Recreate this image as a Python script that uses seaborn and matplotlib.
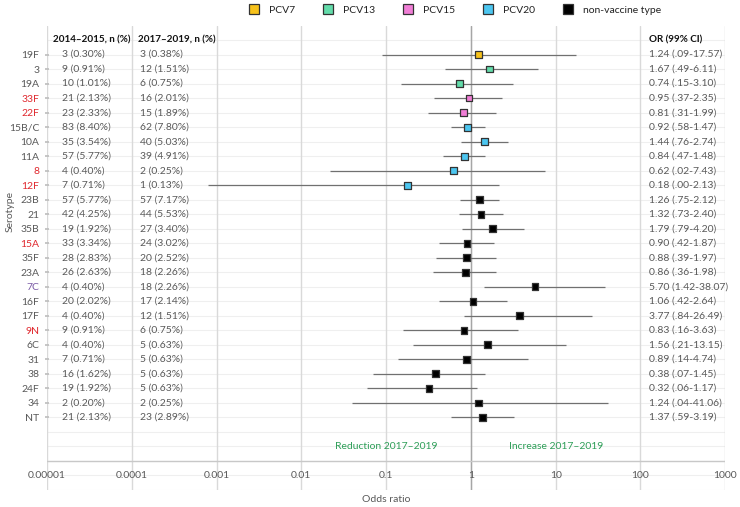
#!/usr/bin/env python3

import pandas as pd
import matplotlib.pyplot as plt
import seaborn as sns
from matplotlib.lines import Line2D
from matplotlib.transforms import blended_transform_factory

# data
serotypes = ["19F", "3", "19A", "33F", "22F", "15B/C", "10A", "11A", "8", "12F",
             "23B", "21", "35B", "15A", "35F", "23A", "7C", "16F", "17F", "9N",
             "6C", "31", "38", "24F", "34", "NT"]
vaccine = ["PCV7", "PCV13", "PCV13", "PCV15", "PCV15", "PCV20", "PCV20", "PCV20",
           "PCV20", "PCV20"] + ["non-vaccine type"] * 16
odds_ratio = [1.24, 1.67, 0.74, 0.95, 0.81, 0.92, 1.44, 0.84, 0.62, 0.18,
              1.26, 1.32, 1.79, 0.90, 0.88, 0.86, 5.70, 1.06, 3.77, 0.83,
              1.56, 0.89, 0.38, 0.32, 1.24, 1.37]
ci_low = [0.09, 0.49, 0.15, 0.37, 0.31, 0.58, 0.76, 0.47, 0.022, 0.0008,
          0.75, 0.73, 0.79, 0.42, 0.39, 0.36, 1.42, 0.42, 0.84, 0.16,
          0.21, 0.14, 0.07, 0.06, 0.04, 0.59]
ci_high = [17.57, 6.11, 3.10, 2.35, 1.99, 1.47, 2.74, 1.48, 7.43, 2.13,
           2.12, 2.40, 4.20, 1.87, 1.97, 1.98, 38.07, 2.64, 26.49, 3.63,
           13.15, 4.74, 1.45, 1.17, 41.06, 3.19]
or_labels = ["1.24 (.09-17.57)", "1.67 (.49-6.11)", "0.74 (.15-3.10)", "0.95 (.37-2.35)",
             "0.81 (.31-1.99)", "0.92 (.58-1.47)", "1.44 (.76-2.74)", "0.84 (.47-1.48)",
             "0.62 (.02-7.43)", "0.18 (.00-2.13)", "1.26 (.75-2.12)", "1.32 (.73-2.40)",
             "1.79 (.79-4.20)", "0.90 (.42-1.87)", "0.88 (.39-1.97)", "0.86 (.36-1.98)",
             "5.70 (1.42-38.07)", "1.06 (.42-2.64)", "3.77 (.84-26.49)", "0.83 (.16-3.63)",
             "1.56 (.21-13.15)", "0.89 (.14-4.74)", "0.38 (.07-1.45)", "0.32 (.06-1.17)",
             "1.24 (.04-41.06)", "1.37 (.59-3.19)"]
n_2014 = ["3 (0.30%)", "9 (0.91%)", "10 (1.01%)", "21 (2.13%)", "23 (2.33%)", "83 (8.40%)",
          "35 (3.54%)", "57 (5.77%)", "4 (0.40%)", "7 (0.71%)", "57 (5.77%)", "42 (4.25%)",
          "19 (1.92%)", "33 (3.34%)", "28 (2.83%)", "26 (2.63%)", "4 (0.40%)", "20 (2.02%)",
          "4 (0.40%)", "9 (0.91%)", "4 (0.40%)", "7 (0.71%)", "16 (1.62%)", "19 (1.92%)",
          "2 (0.20%)", "21 (2.13%)"]
n_2017 = ["3 (0.38%)", "12 (1.51%)", "6 (0.75%)", "16 (2.01%)", "15 (1.89%)", "62 (7.80%)",
          "40 (5.03%)", "39 (4.91%)", "2 (0.25%)", "1 (0.13%)", "57 (7.17%)", "44 (5.53%)",
          "27 (3.40%)", "24 (3.02%)", "20 (2.52%)", "18 (2.26%)", "18 (2.26%)", "17 (2.14%)",
          "12 (1.51%)", "6 (0.75%)", "5 (0.63%)", "5 (0.63%)", "5 (0.63%)", "5 (0.63%)",
          "2 (0.25%)", "23 (2.89%)"]
red_serotypes = ["33F", "22F", "8", "12F", "15A", "9N"]
purple_serotypes = ["7C"]
xticks = [1e-5, 1e-4, 1e-3, 1e-2, 1e-1, 1, 10, 100, 1000]
xtick_labels = ["0.00001", "0.0001", "0.001", "0.01", "0.1", "1", "10", "100", "1000"]

vaccine_order = ["PCV7", "PCV13", "PCV15", "PCV20", "non-vaccine type"]
palette = {"PCV7": "#f7c21b", "PCV13": "#63dcaa", "PCV15": "#f07ed6",
           "PCV20": "#4cc6f0", "non-vaccine type": "#000000"}

df = pd.DataFrame({"serotype": serotypes, "vaccine": vaccine, "OR": odds_ratio,
                   "low": ci_low, "high": ci_high})
df["row"] = range(1, len(df) + 1)

sns.set_theme(style="white")
plt.rcParams["font.family"] = ["Lato", "DejaVu Sans"]
text_grey = "#595959"

fig = plt.figure(figsize=(7.4, 5.07), dpi=100)
ax = fig.add_axes([0.0635, 0.0335, 0.9165, 0.9162])
ax.set_xscale("log")
ax.set_xlim(1e-5, 1e3)
ax.set_ylim(31, -1)

# grid
for r in range(0, 32):
    ax.axhline(r, color="#efefef", lw=0.8, zorder=0)
for xv in xticks:
    ax.axvline(xv, color="#d9d9d9", lw=1, zorder=0.5)
ax.axvline(1, color="#a6a6a6", lw=1, zorder=0.6)
ax.axhline(29, color="#c8c8c8", lw=1, zorder=0.7)

# error bars and points
ax.hlines(df["row"], df["low"], df["high"], color="#707070", lw=0.9, zorder=2)
sns.scatterplot(data=df, x="OR", y="row", hue="vaccine", hue_order=vaccine_order,
                palette=palette, marker="s", s=24, edgecolor="#333333",
                linewidth=0.9, legend=False, zorder=3, ax=ax)

for s in ax.spines.values():
    s.set_visible(False)
ax.set_xticks(xticks)
ax.tick_params(axis="x", bottom=False, labelbottom=False)
ax.set_yticks(df["row"])
ax.set_yticklabels(serotypes, fontsize=7.5)
ax.tick_params(axis="y", left=True, length=3, direction="inout", color="#bfbfbf",
               pad=4)
for lbl in ax.get_yticklabels():
    t = lbl.get_text()
    if t in red_serotypes:
        lbl.set_color("#e0282e")
    elif t in purple_serotypes:
        lbl.set_color("#7a5aa6")
    else:
        lbl.set_color(text_grey)
ax.set_xlabel("")
ax.set_ylabel("")

# x tick labels sit inside the grid, under the axis line
for xv, lab in zip(xticks, xtick_labels):
    ax.text(xv, 30, lab, ha="center", va="center", fontsize=7.5, color=text_grey)

# table columns
trans = blended_transform_factory(ax.transAxes, ax.transData)
ax.text(0.0088, 0, "2014\u20132015, n (%)", transform=trans, fontsize=7.1,
        fontweight="bold", color="#111111", va="center")
ax.text(0.134, 0, "2017\u20132019, n (%)", transform=trans, fontsize=7.1,
        fontweight="bold", color="#111111", va="center")
ax.text(0.888, 0, "OR (99% CI)", transform=trans, fontsize=7.1,
        fontweight="bold", color="#111111", va="center")
for r, a, b, o in zip(df["row"], n_2014, n_2017, or_labels):
    ax.text(0.0221, r, a, transform=trans, fontsize=7.5, color=text_grey, va="center")
    ax.text(0.137, r, b, transform=trans, fontsize=7.5, color=text_grey, va="center")
    ax.text(0.888, r, o, transform=trans, fontsize=7.5, color=text_grey, va="center")

ax.text(0.1, 28, "Reduction 2017\u20132019", ha="center", va="center",
        fontsize=7.5, color="#2e9e58")
ax.text(10, 28, "Increase 2017\u20132019", ha="center", va="center",
        fontsize=7.5, color="#2e9e58")

fig.text(0.0135, 1 - 212 / 507, "Serotype", rotation=90, ha="center", va="center",
         fontsize=7.5, color=text_grey)
fig.text(0.522, 1 - 499 / 507, "Odds ratio", ha="center", va="center",
         fontsize=7.5, color=text_grey)

# legend on top
handles = [Line2D([], [], marker="s", linestyle="", markersize=7,
                  markerfacecolor=palette[v], markeredgecolor="#333333",
                  markeredgewidth=0.9, label=v) for v in vaccine_order]
fig.legend(handles=handles, loc="center", bbox_to_anchor=(0.615, 1 - 10 / 507),
           ncol=5, frameon=False, fontsize=7.5, handlelength=1.0,
           handletextpad=0.9, columnspacing=2.7, labelcolor="#222222")

fig.savefig("out.png", dpi=100)
